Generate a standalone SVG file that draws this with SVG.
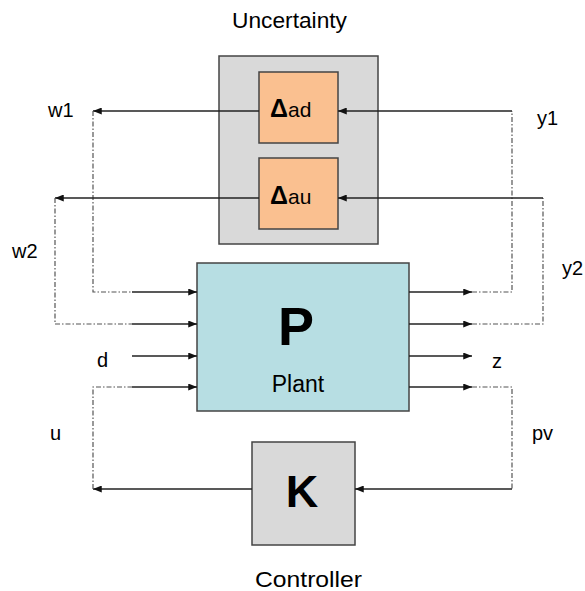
<svg xmlns="http://www.w3.org/2000/svg" width="585" height="591" viewBox="0 0 585 591">
<style>
text{font-family:"Liberation Sans",Arial,sans-serif;fill:#000}
.lbl{font-size:20px}
.ttl{font-size:22px}
.box{stroke:#444;stroke-width:1.5}
.sol{fill:none;stroke:#222;stroke-width:1.3}
.dd{fill:none;stroke:#555;stroke-width:1.2;stroke-dasharray:5 2 1.5 2}
</style>
<defs>
<marker id="ah" viewBox="0 0 10 8" refX="10" refY="4" markerWidth="9" markerHeight="7" markerUnits="userSpaceOnUse" orient="auto">
<path d="M0,0 L10,4 L0,8 Z" fill="#111"/>
</marker>
</defs>
<rect width="585" height="591" fill="#fff"/>
<text class="ttl" x="232" y="28" textLength="115" lengthAdjust="spacingAndGlyphs">Uncertainty</text>
<text class="ttl" x="255" y="587" textLength="107" lengthAdjust="spacingAndGlyphs">Controller</text>
<g id="uncertainty">
<rect class="box" x="219" y="56" width="159" height="188" fill="#D9D9D9"/>
</g>
<g id="delta_ad">
<rect class="box" x="259" y="72" width="79" height="71" fill="#FAC090"/>
<text x="270" y="117" font-size="25"><tspan font-weight="bold">Δ</tspan><tspan font-size="21">ad</tspan></text>
</g>
<g id="delta_au">
<rect class="box" x="259" y="158" width="79" height="71" fill="#FAC090"/>
<text x="270" y="204" font-size="25"><tspan font-weight="bold">Δ</tspan><tspan font-size="21">au</tspan></text>
</g>
<g id="plant">
<rect class="box" x="197" y="263" width="212" height="148" fill="#B7DEE3"/>
<text x="296" y="345" font-size="54" font-weight="bold" text-anchor="middle">P</text>
<text x="298" y="392" font-size="23" text-anchor="middle">Plant</text>
</g>
<g id="controller">
<rect class="box" x="252" y="442" width="103" height="103" fill="#D9D9D9"/>
<text x="302" y="507" font-size="45" font-weight="bold" text-anchor="middle">K</text>
</g>
<g id="connectors">
<path class="sol" d="M259,111 H93" marker-end="url(#ah)"/>
<path class="dd" d="M93,111 V292 H132"/>
<path class="sol" d="M132,292 H197" marker-end="url(#ah)"/>
<path class="sol" d="M259,198 H55" marker-end="url(#ah)"/>
<path class="dd" d="M55,198 V324 H132"/>
<path class="sol" d="M132,324 H197" marker-end="url(#ah)"/>
<path class="sol" d="M132,356 H197" marker-end="url(#ah)"/>
<path class="sol" d="M252,489 H93" marker-end="url(#ah)"/>
<path class="dd" d="M93,489 V387 H132"/>
<path class="sol" d="M132,387 H197" marker-end="url(#ah)"/>
<path class="sol" d="M409,292 H472" marker-end="url(#ah)"/>
<path class="dd" d="M472,292 H512 V111"/>
<path class="sol" d="M512,111 H338" marker-end="url(#ah)"/>
<path class="sol" d="M409,324 H472" marker-end="url(#ah)"/>
<path class="dd" d="M472,324 H543 V198"/>
<path class="sol" d="M543,198 H338" marker-end="url(#ah)"/>
<path class="sol" d="M409,356 H472" marker-end="url(#ah)"/>
<path class="sol" d="M409,387 H472" marker-end="url(#ah)"/>
<path class="dd" d="M472,387 H512 V489"/>
<path class="sol" d="M512,489 H355" marker-end="url(#ah)"/>
</g>
<g id="labels">
<text class="lbl" x="48" y="117">w1</text>
<text class="lbl" x="12" y="258">w2</text>
<text class="lbl" x="97" y="367">d</text>
<text class="lbl" x="50" y="440">u</text>
<text class="lbl" x="537" y="125">y1</text>
<text class="lbl" x="562" y="275">y2</text>
<text class="lbl" x="492" y="368">z</text>
<text class="lbl" x="532" y="440">pv</text>
</g>
</svg>
